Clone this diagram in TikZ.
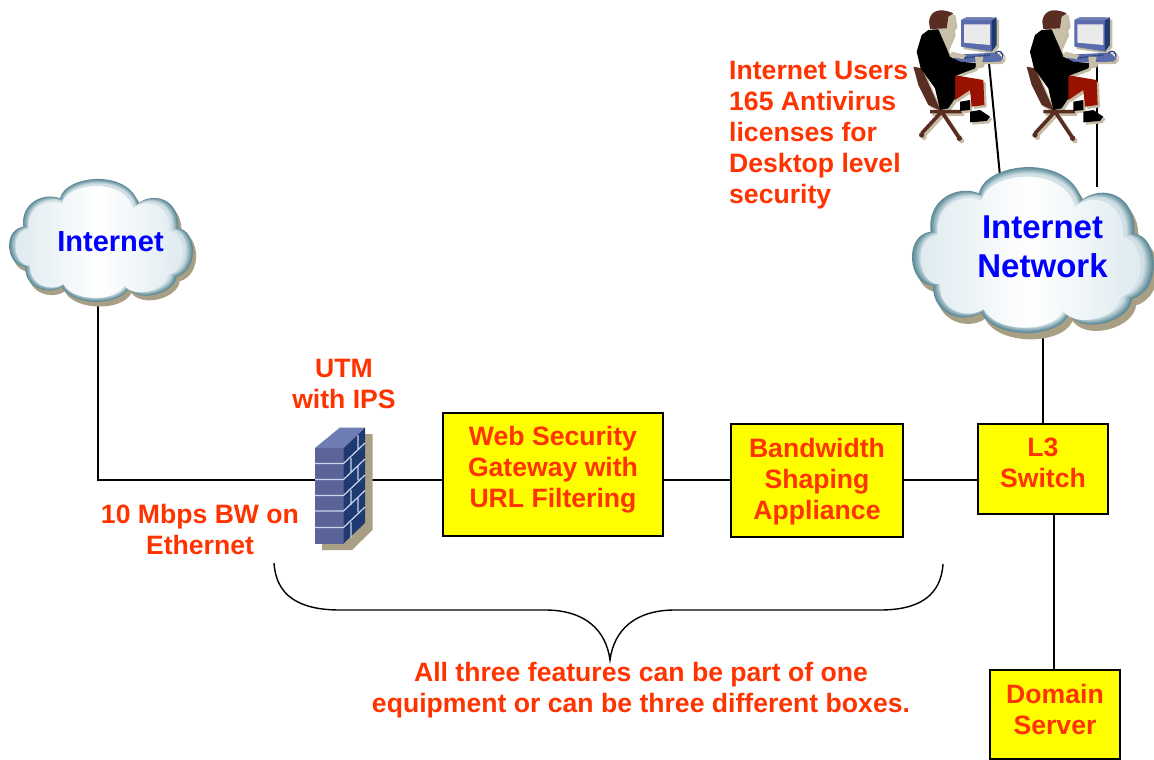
\documentclass[tikz,border=0pt]{standalone}
\usepackage{fontspec}
\setmainfont{Liberation Sans}
\definecolor{redtxt}{HTML}{FF3300}
\definecolor{bluetxt}{HTML}{0000FF}
\definecolor{boxy}{HTML}{FFFF00}
\definecolor{tanshadow}{HTML}{A89F85}
\definecolor{usershadow}{HTML}{C4BCA4}
\definecolor{rimdark}{HTML}{5F8C99}
\definecolor{rimlight}{HTML}{DCE9EE}
\definecolor{brickfront}{HTML}{5B6499}
\definecolor{brickside}{HTML}{1F3A70}
\definecolor{bricktop}{HTML}{6E7DB3}
\definecolor{mortar}{HTML}{C9D3EA}
\definecolor{hair}{HTML}{5A2D22}
\definecolor{skin}{HTML}{C8C0A8}
\definecolor{pants}{HTML}{991100}
\definecolor{monfront}{HTML}{5A6CAB}
\definecolor{screen}{HTML}{EAEAEA}
\definecolor{jacket}{HTML}{000000}
\tikzset{
  wire/.style={draw=black,line width=2pt},
  boxnode/.style={draw=black,fill=boxy,line width=1.6pt,inner sep=0pt},
  redlabel/.style={text=redtxt,font=\bfseries\fontsize{26.6}{31}\selectfont,align=center,inner sep=0pt},
  redleft/.style={redlabel,align=left},
  bluesmall/.style={text=bluetxt,font=\bfseries\fontsize{29}{34}\selectfont,align=center,inner sep=0pt},
  bluebig/.style={text=bluetxt,font=\bfseries\fontsize{33}{39}\selectfont,align=center,inner sep=0pt},
  ghost/.style={inner sep=0pt,outer sep=0pt}
}
\newcommand{\cloudshape}{(180,85) .. controls (195,15) and (385,-5) .. (415,100)
  .. controls (460,65) and (540,85) .. (535,175)
  .. controls (590,180) and (600,300) .. (530,320)
  .. controls (525,370) and (420,400) .. (385,355)
  .. controls (360,410) and (215,410) .. (185,350)
  .. controls (150,375) and (75,360) .. (75,290)
  .. controls (20,290) and (5,180) .. (70,170)
  .. controls (60,100) and (130,65) .. (180,85) -- cycle}
\newcommand{\drawcloud}[4]{%
  \begin{scope}[shift={(#1,#2)},xscale=#3,yscale=#4]
    \fill[tanshadow] [shift={(9,14)}] \cloudshape;
    \foreach \f/\m in {1/100,.985/85,.97/65,.955/45,.94/25,.925/10}{
      \begin{scope}[shift={(300,218)},scale=\f,shift={(-300,-218)}]
        \fill[rimdark!\m!rimlight] \cloudshape;
      \end{scope}}
    \begin{scope}[shift={(295,222)},scale=.91,shift={(-300,-218)}]
      \shade[left color=rimlight,right color=rimlight,middle color=white] \cloudshape;
    \end{scope}
  \end{scope}}
\newcommand{\userparts}{%
    % chair
    \fill[hair] (40,200) -- (65,205) -- (122,332) -- (85,315) -- (55,255) -- cycle;
    \draw[hair,line width=3.6pt] (125,335) -- (65,400) (125,335) -- (175,410) (125,335) -- (185,335) (125,335) -- (90,335);
    \fill[hair] (65,405) circle (8) (178,415) circle (8);
    % face and neck
    \fill[skin] (112,45) -- (160,42) -- (165,75) -- (158,85) -- (160,100) -- (140,145) -- (100,90) -- cycle;
    \fill[hair] (87,65) .. controls (90,35) and (115,20) .. (160,40) -- (145,50) -- (140,85) -- (90,87) -- cycle;
    % monitor
    \fill[monfront] (183,60) -- (200,52) -- (276,52) -- (276,155) -- (183,140) -- cycle;
    \fill[brickside] (275,60) -- (290,52) -- (290,135) -- (275,155) -- cycle;
    \fill[bricktop] (183,60) -- (200,52) -- (290,52) -- (275,60) -- cycle;
    \fill[screen] (192,73) -- (270,73) -- (270,135) -- (192,128) -- cycle;
    % keyboard
    \fill[monfront] (160,175) -- (185,163) -- (290,158) -- (310,175) -- (300,185) -- (170,187) -- cycle;
    \draw[brickside,line width=1.6pt,dash pattern=on 1.5pt off 1pt] (178,176) -- (270,165);
    \draw[brickside,line width=1.2pt] (285,160) .. controls (300,145) and (310,160) .. (308,172);
    % pants and shoes
    \fill[pants] (160,225) -- (250,240) -- (253,315) -- (215,320) -- (210,270) -- (165,300) -- cycle;
    \fill[jacket] (180,305) -- (210,300) -- (210,330) -- (180,333) -- cycle;
    \fill[jacket] (210,335) -- (240,330) -- (270,350) -- (260,363) -- (210,367) -- cycle;
    % jacket
    \fill[jacket] (85,90) -- (115,88) -- (140,145) -- (150,170) -- (180,185) -- (230,190) -- (225,205) -- (165,228) -- (165,295) -- (145,325) -- (120,330) -- (105,265) -- (62,205) -- (50,155) -- (65,105) -- cycle;
    % hands
    \fill[skin] (155,155) -- (198,165) -- (190,178) -- (150,170) -- cycle;
    \fill[skin] (225,170) -- (250,170) -- (245,195) -- (228,198) -- cycle;
}
\newcommand{\drawuser}[1]{%
  \begin{scope}[shift={(900+#1,0)},xscale=1/3,yscale=1/3]
    \begin{scope}[shift={(7,7)}]
      \colorlet{hair}{usershadow}\colorlet{skin}{usershadow}\colorlet{pants}{usershadow}
      \colorlet{monfront}{usershadow}\colorlet{brickside}{usershadow}\colorlet{bricktop}{usershadow}
      \colorlet{screen}{usershadow}\colorlet{jacket}{usershadow}
      \userparts
    \end{scope}
    \userparts
  \end{scope}}
\begin{document}
\begin{tikzpicture}[x=1pt,y=-1pt]
\useasboundingbox (0,0) rectangle (1154,760);
% anchor points on drawn shapes
\coordinate (inetfoot) at (98,302);
\coordinate (corner) at (98,480);
\coordinate (netfoot) at (1043,334);
\coordinate (user1) at (989,63);
\coordinate (netuser1) at (1000,176);
\coordinate (user2) at (1097,63);
\coordinate (netuser2) at (1097,187);
\coordinate (braceL) at (274,563);
\coordinate (braceT) at (610,660);
\coordinate (braceR) at (943,564);
\coordinate (l3s) at (1054,514);
\node[ghost,minimum width=57.5pt,minimum height=130pt] (fw) at (343.5,480) {};
% boxes
\node[boxnode,minimum width=220pt,minimum height=123pt] (web) at (553,474.5) {};
\node[boxnode,minimum width=172pt,minimum height=113pt] (bw) at (817,480.5) {};
\node[boxnode,minimum width=130pt,minimum height=90pt] (l3) at (1043,469) {};
\node[boxnode,minimum width=130pt,minimum height=89pt] (dom) at (1055,714.5) {};
% connectors
\draw[wire] (inetfoot) -- (corner) -- (fw.west);
\draw[wire] (fw.east) -- (web.west |- fw.east);
\draw[wire] (web.east |- fw.east) -- (bw.west |- fw.east);
\draw[wire] (bw.east |- fw.east) -- (l3.west |- fw.east);
\draw[wire] (netfoot) -- (l3.north -| netfoot);
\draw[wire] (l3s) -- (dom.north -| l3s);
\draw[wire] (user1) -- (netuser1);
\draw[wire] (user2) -- (netuser2);
% brace
\draw[black,line width=1.4pt] (braceL) .. controls (276,595) and (298,610) .. (340,610) -- (545,610) .. controls (585,610) and (606,630) .. (braceT) .. controls (614,630) and (635,610) .. (675,610) -- (880,610) .. controls (920,610) and (941,595) .. (braceR);
% clouds
\drawcloud{0}{170}{.3333}{.3333}
\drawcloud{900}{155}{.438}{.45}
% firewall
\fill[tanshadow] (322,550) -- (352,550) -- (372.5,530) -- (372.5,434) -- (340,434) -- (322,500) -- cycle;
\fill[brickfront] (315,448) -- (343.5,448) -- (343.5,543.5) -- (315,543.5) -- cycle;
\fill[brickside] (343.5,448) -- (365,427.5) -- (365,523) -- (343.5,543.5) -- cycle;
\fill[bricktop] (315,448) -- (340,427.5) -- (365,427.5) -- (343.5,448) -- cycle;
\draw[mortar,line width=1.2pt]
  (315,463.5) -- (343.5,463.5) -- (365,443)
  (315,479.5) -- (343.5,479.5) -- (365,459)
  (315,495.5) -- (343.5,495.5) -- (365,475)
  (315,511) -- (343.5,511) -- (365,490.5)
  (315,527.5) -- (343.5,527.5) -- (365,507)
  (358,435) -- (358,449) (351,458) -- (351,473) (358,465) -- (358,480)
  (351,490) -- (351,505) (358,498) -- (358,512) (351,522) -- (351,538);
% users
\drawuser{0}
\drawuser{113.3}
% text
\node[bluesmall] (inettxt) at (110.5,242) {Internet};
\node[bluebig] (nettxt) at (1042.5,247) {Internet\\Network};
\node[redleft,anchor=west] (userstxt) at (729,135.5) {Internet Users\\165 Antivirus\\licenses for\\Desktop level\\security};
\node[redlabel] (utmtxt) at (344,384) {UTM\\with IPS};
\node[redlabel] (bwethtxt) at (200,529.5) {10 Mbps BW on\\Ethernet};
\node[redlabel] (webtxt) at ([yshift=4.5pt]web.center) {Web Security\\Gateway with\\URL Filtering};
\node[redlabel] (bwtxt) at ([yshift=-0.8pt]bw.center) {Bandwidth\\Shaping\\Appliance};
\node[redlabel] (l3txt) at ([yshift=5.8pt]l3.center) {L3\\Switch};
\node[redlabel] (domtxt) at ([yshift=5pt]dom.center) {Domain\\Server};
\node[redlabel] (alltxt) at (641,690) {All three features can be part of one\\equipment or can be three different boxes.};
\end{tikzpicture}
\end{document}
